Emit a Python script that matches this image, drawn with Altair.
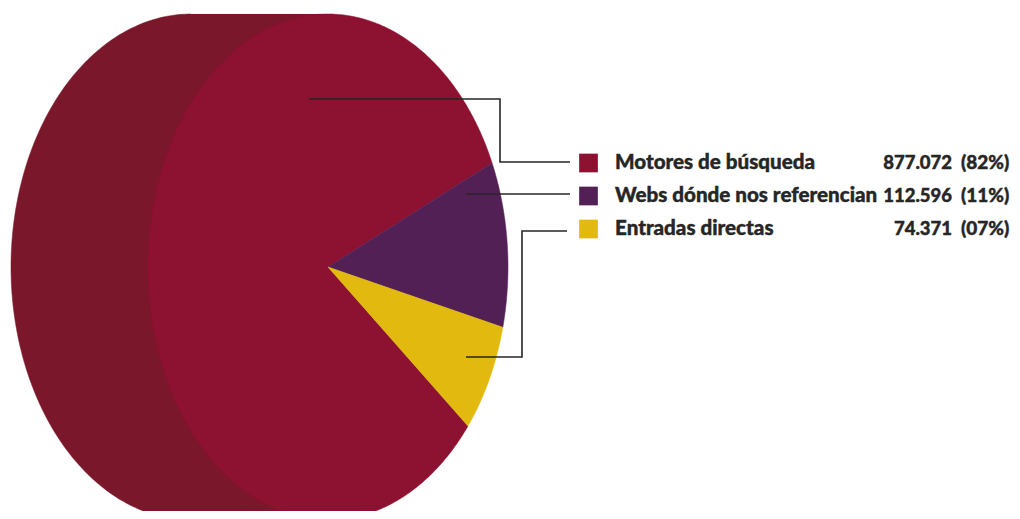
import math
import altair as alt
import pandas as pd

# Values
names = ["Motores de búsqueda", "Webs dónde nos referencian", "Entradas directas"]
visits = [877072, 112596, 74371]
visit_labels = ["877.072", "112.596", "74.371"]
pct_labels = ["(82%)", "(11%)", "(07%)"]
colors = ["#8d1131", "#522055", "#e1b90f"]
side_color = "#7a172b"
ink = "#262626"

# Layout (page pixels)
W, H = 1004, 503
CX, CY, RX, RY = 328, 267, 180, 253
DEPTH = 137
START = 24.3  # degrees above east where the purple slice begins

x_scale = alt.Scale(domain=[8, 8 + W], nice=False, zero=False)
y_scale = alt.Scale(domain=[8 + H, 8], nice=False, zero=False)
x_enc = alt.X("x:Q", scale=x_scale, axis=None)
y_enc = alt.Y("y:Q", scale=y_scale, axis=None)


def pt(cx, deg):
    a = math.radians(deg)
    return cx + RX * math.cos(a), CY - RY * math.sin(a)


def sector(a0, a1):
    n = max(2, int(abs(a1 - a0) * 2))
    rows = [(CX, CY)] + [pt(CX, a0 + (a1 - a0) * i / n) for i in range(n + 1)] + [(CX, CY)]
    return pd.DataFrame([{"x": p[0], "y": p[1], "o": i} for i, p in enumerate(rows)])


def poly(df, fill):
    return alt.Chart(df).mark_line(
        fill=fill, stroke=fill, strokeWidth=0.5, clip=True, interpolate="linear"
    ).encode(x=x_enc, y=y_enc, order="o:Q")


total = sum(visits)
spans = [v / total * 360 for v in visits]

# Slices run clockwise from START: purple, yellow, then the large red one
a_purple_end = START - spans[1]
a_yellow_end = a_purple_end - spans[2]
a_red_end = a_yellow_end - spans[0]

# Extruded side
side_pts = [pt(CX - DEPTH, 90 + i) for i in range(0, 181)] + [(CX, CY + RY), (CX, CY - RY)]
side_df = pd.DataFrame([{"x": p[0], "y": p[1], "o": i} for i, p in enumerate(side_pts)])

layers = [
    poly(side_df, side_color),
    poly(sector(a_yellow_end, a_red_end), colors[0]),
    poly(sector(START, a_purple_end), colors[1]),
    poly(sector(a_purple_end, a_yellow_end), colors[2]),
]

# Leader lines
leaders = [
    [(309, 99), (500, 99), (500, 162), (570, 162)],
    [(466, 194), (570, 194)],
    [(466, 357), (522, 357), (522, 231), (567, 231)],
]
for path in leaders:
    df = pd.DataFrame([{"x": p[0], "y": p[1], "o": i} for i, p in enumerate(path)])
    layers.append(
        alt.Chart(df).mark_line(color=ink, strokeWidth=1.6, strokeJoin="miter").encode(
            x=x_enc, y=y_enc, order="o:Q"
        )
    )

# Legend
row_y = [163, 196, 229]
leg = pd.DataFrame({
    "name": names, "visits": visit_labels, "pct": pct_labels, "color": colors, "y": row_y,
})
leg["xs"] = 588.5
leg["xn"] = 615
leg["xv"] = 952
leg["xp"] = 961

layers.append(
    alt.Chart(leg).mark_square(size=350, opacity=1, filled=True).encode(
        x=alt.X("xs:Q", scale=x_scale, axis=None),
        y=y_enc,
        color=alt.Color("color:N", scale=None),
    )
)
base = dict(font="Lato", fontWeight=900, color=ink, baseline="middle", stroke=ink, strokeWidth=0.4)
layers.append(
    alt.Chart(leg).mark_text(align="left", fontSize=20.6, **base).encode(
        x=alt.X("xn:Q", scale=x_scale, axis=None), y=y_enc, text="name:N"
    )
)
layers.append(
    alt.Chart(leg).mark_text(align="right", fontSize=18.5, **base).encode(
        x=alt.X("xv:Q", scale=x_scale, axis=None), y=y_enc, text="visits:N"
    )
)
layers.append(
    alt.Chart(leg).mark_text(align="left", fontSize=19, **base).encode(
        x=alt.X("xp:Q", scale=x_scale, axis=None), y=y_enc, text="pct:N"
    )
)

chart = (
    alt.layer(*layers)
    .resolve_scale(color="independent")
    .properties(width=W, height=H, padding=0, background="white", autosize="none")
    .configure_view(stroke=None)
)
chart.save("out.html", embed_options={"renderer": "svg", "actions": False})
